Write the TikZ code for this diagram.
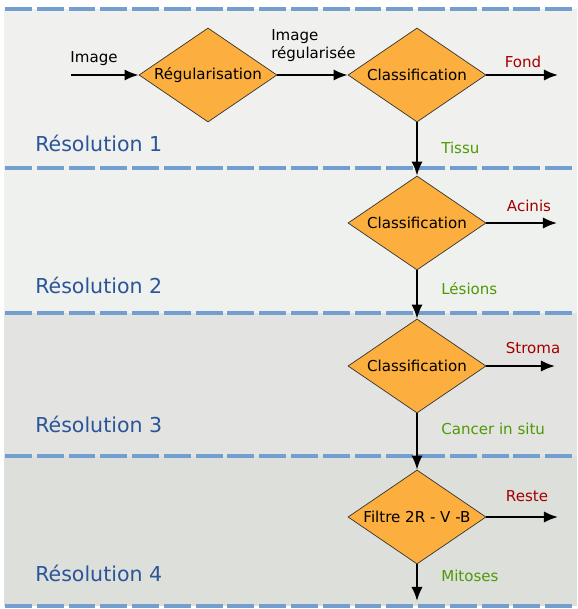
\documentclass[tikz,border=0pt]{standalone}
\usepackage{fontspec}
\setmainfont{DejaVu Sans}
\usetikzlibrary{arrows.meta,shapes.geometric}

\definecolor{bandeA}{HTML}{F0F0EE}
\definecolor{bandeB}{HTML}{EFF1EE}
\definecolor{bandeC}{HTML}{E3E3E1}
\definecolor{bandeD}{HTML}{DCDFDA}
\definecolor{tiret}{HTML}{729FCF}
\definecolor{losange}{HTML}{FCAF3E}
\definecolor{rejet}{HTML}{A40000}
\definecolor{garde}{HTML}{4E9A06}
\definecolor{niveau}{HTML}{2A5599}

\begin{document}
\begin{tikzpicture}[
  x=0.025cm, y=-0.025cm,
  >={Latex[length=10pt,width=8pt]},
  etape/.style={diamond,aspect=1.47,draw=black!80,line width=0.5pt,fill=losange,
    inner sep=0pt,minimum width=3.45cm,minimum height=2.35cm,
    font=\fontsize{10.7}{12.8}\selectfont},
  flux/.style={->,line width=1.4pt},
  note/.style={inner sep=0pt,font=\fontsize{10.7}{12.8}\selectfont},
  niv/.style={inner sep=0pt,anchor=west,text=niveau,font=\fontsize{14.6}{17}\selectfont},
  sep/.style={line width=2.8pt,tiret,dash pattern=on 19.1pt off 3.5pt}
]
  \useasboundingbox (0,0) rectangle (577,609);

  % Bands, one per resolution.
  \fill[bandeA] (4,9)   rectangle (577,168);
  \fill[bandeB] (4,168) rectangle (577,313);
  \fill[bandeC] (4,313) rectangle (577,456);
  \fill[bandeD] (4,456) rectangle (577,606);
  \foreach \y in {9,168,313,456,606}
    \draw[sep] (5,\y) -- (577,\y);

  \node[niv] (resA) at (35,143) {Résolution 1};
  \node[niv] (resB) at (35,285) {Résolution 2};
  \node[niv] (resC) at (35,424) {Résolution 3};
  \node[niv] (resD) at (35,573) {Résolution 4};

  % Processing steps.
  \node[etape] (regul)  at (208,75)  {Régularisation};
  \node[etape] (classA) at (417,75)  {Classification};
  \node[etape] (classB) at (417,223) {Classification};
  \node[etape] (classC) at (417,366) {Classification};
  \node[etape] (filtre) at (417,517) {Filtre 2R - V -B};

  \coordinate (entree)  at (71,75);
  \coordinate (sortieA) at (558,75);
  \coordinate (sortieB) at (557,223);
  \coordinate (sortieC) at (555,366);
  \coordinate (sortieD) at (558,517);
  \coordinate (fin)     at (417,601);

  \draw[flux] (entree) -- (regul);
  \draw[flux] (regul) -- (classA);
  \draw[flux] (classA) -- (sortieA);
  \draw[flux] (classA) -- (classB);
  \draw[flux] (classB) -- (sortieB);
  \draw[flux] (classB) -- (classC);
  \draw[flux] (classC) -- (sortieC);
  \draw[flux] (classC) -- (filtre);
  \draw[flux] (filtre) -- (sortieD);
  \draw[flux] (filtre) -- (fin);

  % Labels on the flows.
  \node[note] (image) at (94,59) {Image};
  \node[note,align=left,anchor=west] (imreg) at (271,46) {Image\\régularisée};
  \node[note,text=rejet] (fond)   at (523,62)  {Fond};
  \node[note,text=rejet] (acinis) at (529,206) {Acinis};
  \node[note,text=rejet] (stroma) at (533,348) {Stroma};
  \node[note,text=rejet] (reste)  at (527,496) {Reste};
  \node[note,text=garde,anchor=west] (tissu)   at (441,148) {Tissu};
  \node[note,text=garde,anchor=west] (lesions) at (441,289) {Lésions};
  \node[note,text=garde,anchor=west] (cancer)  at (441,429) {Cancer in situ};
  \node[note,text=garde,anchor=west] (mitoses) at (441,576) {Mitoses};
\end{tikzpicture}
\end{document}
